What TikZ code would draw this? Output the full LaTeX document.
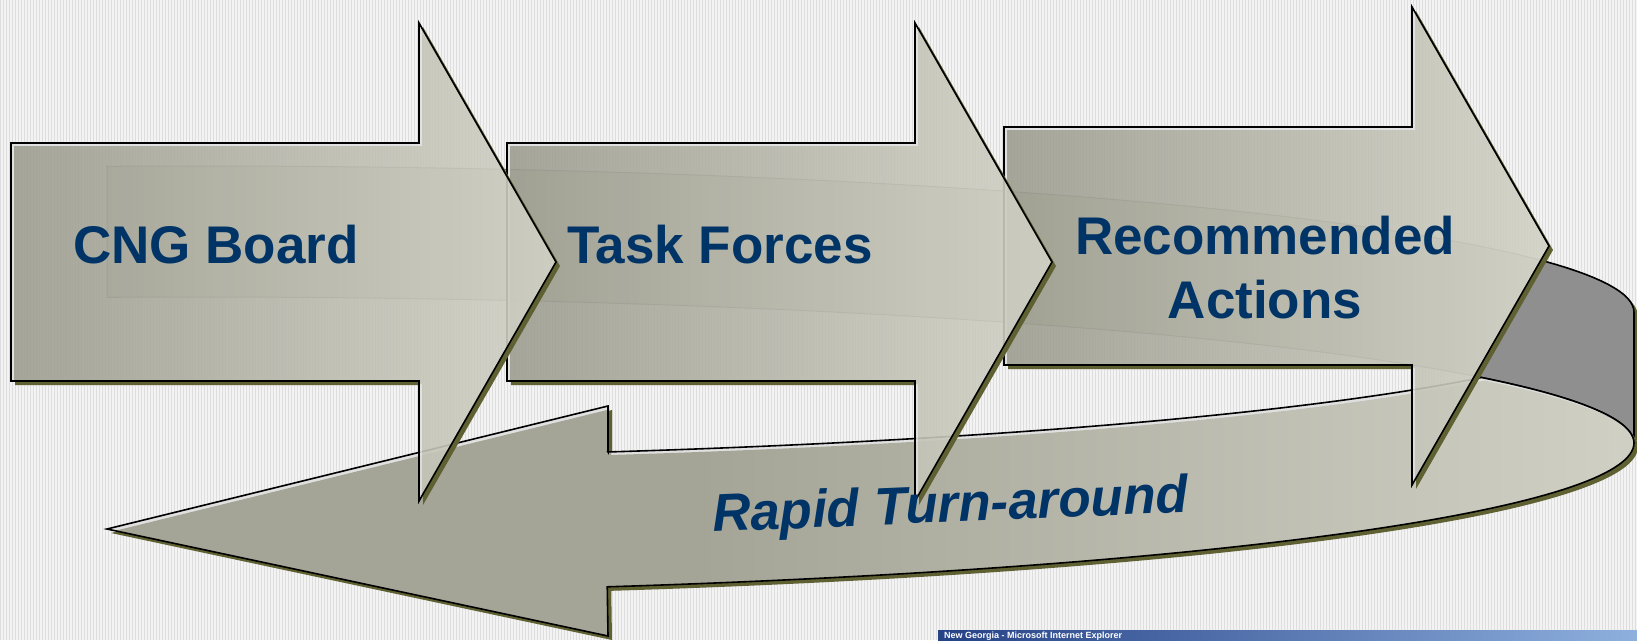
\documentclass[tikz,border=0pt]{standalone}
\usepackage{fontspec}
\setmainfont{Liberation Sans}
\definecolor{bgc}{RGB}{243,243,243}
\definecolor{stripec}{RGB}{222,222,222}
\definecolor{arrL}{RGB}{157,157,144}
\definecolor{arrR}{RGB}{210,210,198}
\definecolor{frontL}{RGB}{164,164,151}
\definecolor{frontR}{RGB}{208,208,196}
\definecolor{backc}{RGB}{198,198,186}
\definecolor{darkc}{RGB}{143,143,143}
\definecolor{shadowc}{RGB}{95,97,50}
\definecolor{lightc}{RGB}{224,224,224}
\definecolor{textblue}{RGB}{0,51,102}
\definecolor{barL}{RGB}{38,66,135}
\definecolor{barR}{RGB}{142,176,222}
\tikzset{
  arrpath/.style={insert path={(11,143) -- (419,143) -- (419,23) -- (556,262) -- (419,501) -- (419,381) -- (11,381) -- cycle}},
  backpath/.style={insert path={(107,166.3) -- plot[domain=-93.72:0, samples=70, variable=\t] ({200+1434*cos(\t)},{312+146*sin(\t)}) -- plot[domain=0:-93.72, samples=70, variable=\t] ({200+1434*cos(\t)},{443+146*sin(\t)}) -- cycle}},
  retpath/.style={insert path={(608,406) -- (608,452) -- plot[domain=73.47:26.66, samples=50, variable=\t] ({200+1434*cos(\t)},{312+146*sin(\t)}) -- plot[domain=-26.66:0, samples=25, variable=\t] ({200+1434*cos(\t)},{443+146*sin(\t)}) -- plot[domain=0:73.5, samples=70, variable=\t] ({200+1434*cos(\t)},{443+150*sin(\t)}) -- (608,636) -- (107,529) -- cycle}},
  frame/.style={insert path={(-1300,-200) -- (-1300,900) -- (1900,900) -- (1900,-200) -- cycle}},
  outline/.style={draw=black, line width=1.6pt, line join=miter},
  txt/.style={text=textblue, font=\fontsize{53}{60}\selectfont\bfseries, inner sep=0pt},
  stripe/.style={draw=stripec, line width=1.2pt}
}
% the frame runs counter-clockwise, every shape clockwise: frame + shape = outside of shape
\newcommand{\bigarrow}[2]{%
  \begin{scope}[shift={(#1,#2)}]
    \begin{scope}
      \clip[arrpath, frame];
      \fill[shadowc, shift={(4,4)}, arrpath];
    \end{scope}
    \begin{scope}
      \clip[arrpath];
      \fill[lightc, fill opacity=0.9, shift={(3,3)}, arrpath, frame];
      \path[left color=arrL, right color=arrR, fill opacity=0.9, shift={(3,3)}, arrpath];
    \end{scope}
    \path[outline, arrpath];
  \end{scope}}
\begin{document}
\begin{tikzpicture}[x=1pt,y=-1pt]
\useasboundingbox (0,0) rectangle (1637,640);
\fill[bgc] (0,0) rectangle (1637,640);
\foreach \i in {0,3,...,1635} \draw[stripe] (\i+0.5,0) -- (\i+0.5,640);

% back band of the ribbon
\begin{scope}
  \clip (1600,250) rectangle (1700,500);
  \clip[backpath, frame];
  \fill[shadowc, shift={(4,4)}, backpath];
\end{scope}
\path[fill=backc, draw=black!55, line width=1pt, backpath];
\begin{scope}
  \clip (1575.4,200) -- (1700,200) -- (1700,520) -- (1392,520) -- cycle;
  \path[fill=darkc, outline, backpath];
\end{scope}

% front band (return arrow)
\begin{scope}
  \clip[retpath, frame];
  \fill[shadowc, shift={(4,4)}, retpath];
\end{scope}
\begin{scope}
  \clip[retpath];
  \fill[lightc, shift={(3,3)}, retpath, frame];
  \clip[shift={(3,3)}, retpath];
  \fill[frontL] (90,380) rectangle (701,660);
  \shade[left color=frontL, right color=frontR] (700,380) rectangle (1640,660);
\end{scope}
\path[outline, retpath];

% three process arrows
\bigarrow{993}{-16}
\bigarrow{496}{0}
\bigarrow{0}{0}

\node[txt, anchor=base west] (cng) at (73,263) {CNG Board};
\node[txt, anchor=base west] (task) at (567,263) {Task Forces};
\node[txt, anchor=base] (rec1) at (1265,254) {Recommended};
\node[txt, anchor=base] (rec2) at (1265,318) {Actions};
\node[txt, font=\fontsize{53}{60}\selectfont\bfseries\itshape, anchor=base, rotate=2.4] (rapid) at (951,522) {Rapid Turn-around};

% window title bar fragment
\begin{scope}
  \clip (938,630) rectangle (1637,640);
  \shade[left color=barL, right color=barR] (938,630) rectangle (1637,640);
  \node[anchor=base west, text=white, font=\fontsize{9}{10}\selectfont\bfseries, inner sep=0pt] (ie) at (944,638.6) {New Georgia - Microsoft Internet Explorer};
\end{scope}
\end{tikzpicture}
\end{document}
